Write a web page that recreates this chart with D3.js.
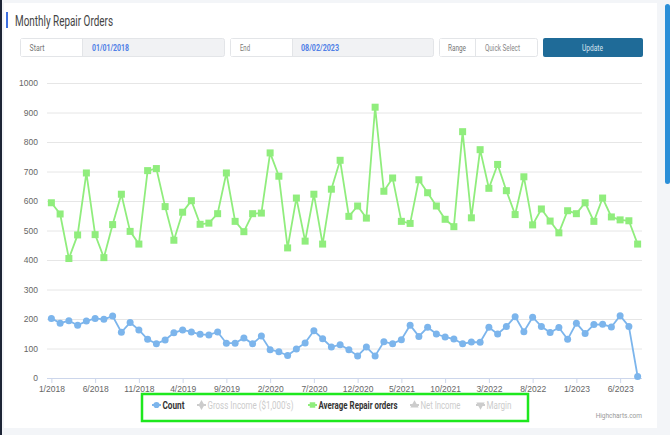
<!DOCTYPE html>
<html>
<head>
<meta charset="utf-8">
<script src="https://cdn.jsdelivr.net/npm/d3@7"></script>
<style>
  body { margin: 0; background: #f3f5f8; }
  svg { display: block; font-family: "Roboto", sans-serif; }
</style>
</head>
<body>
<svg id="chart" width="670" height="435"></svg>
<script>
// monthly values, 1/2018 .. 8/2023
const counts = [202, 186, 194, 179, 193, 202, 199, 210, 155, 188, 163, 131,
  116, 129, 153, 163, 156, 148, 146, 156, 118, 118, 136, 116,
  142, 96, 89, 76, 98, 119, 160, 133, 105, 113, 96, 75,
  105, 75, 123, 116, 130, 179, 141, 172, 149, 139, 132, 116,
  122, 121, 172, 149, 175, 208, 157, 206, 175, 154, 171, 131,
  186, 151, 181, 182, 173, 211, 175, 5]
const avgRepair = [594, 556, 405, 485, 695, 486, 408, 520, 623, 497, 454, 703,
  710, 581, 467, 562, 601, 521, 525, 557, 695, 531, 496, 557,
  559, 763, 684, 441, 610, 464, 623, 454, 640, 738, 548, 583,
  542, 918, 633, 678, 531, 524, 672, 628, 583, 538, 513, 835,
  543, 774, 643, 724, 635, 554, 682, 519, 573, 532, 492, 567,
  557, 594, 531, 610, 546, 536, 533, 454]
const tickIdx = [0, 5, 10, 15, 20, 25, 30, 35, 40, 45, 50, 55, 60, 65]
const tickLabels = ["1/2018", "6/2018", "11/2018", "4/2019", "9/2019", "2/2020", "7/2020",
  "12/2020", "5/2021", "10/2021", "3/2022", "8/2022", "1/2023", "6/2023"]
const yTicks = [0, 100, 200, 300, 400, 500, 600, 700, 800, 900, 1000]
const legendItems = [
  { name: "Count", color: "#7cb5ec", symbol: d3.symbolCircle, on: true },
  { name: "Gross Income ($1,000's)", color: "#cccccc", symbol: d3.symbolDiamond, on: false },
  { name: "Average Repair orders", color: "#90ed7d", symbol: d3.symbolSquare, on: true },
  { name: "Net Income", color: "#cccccc", symbol: d3.symbolTriangle, on: false },
  { name: "Margin", color: "#cccccc", symbol: d3.symbolTriangle, on: false }
]

let svg = d3.select("#chart")

// the source font is a condensed one, so squeeze text to the widths seen
let squeeze = (sel, w) => sel.attr("textLength", w).attr("lengthAdjust", "spacingAndGlyphs")

// page chrome
svg.append("rect").attr("x", 0).attr("y", 0).attr("width", 2).attr("height", 435).attr("fill", "#1d2536")
svg.append("rect").attr("x", 4).attr("y", 3).attr("width", 653).attr("height", 425).attr("fill", "#fff")
svg.append("rect").attr("x", 665).attr("y", 4).attr("width", 5).attr("height", 180).attr("rx", 2.5).attr("fill", "#2b8fd8")

svg.append("rect").attr("x", 6).attr("y", 12).attr("width", 2).attr("height", 16).attr("fill", "#3d6fe0")
svg.append("text").attr("x", 15).attr("y", 26).attr("font-size", 14).attr("fill", "#444")
  .text("Monthly Repair Orders").call(squeeze, 98)

// date inputs row
let inputs = [
  { x: 20, split: 82, end: 224, label: "Start", value: "01/01/2018", lx: 29.5, lw: 15, vx: 92, vw: 37 },
  { x: 230, split: 292, end: 433, label: "End", value: "08/02/2023", lx: 240, lw: 10, vx: 301, vw: 38 },
  { x: 439, split: 475, end: 537, label: "Range", value: "Quick Select", lx: 448, lw: 18, vx: 485, vw: 35 }
]
inputs.forEach(d => {
  let g = svg.append("g")
  g.append("rect").attr("x", d.x + 0.5).attr("y", 38.5).attr("width", d.end - d.x).attr("height", 18)
    .attr("fill", d.label === "Range" ? "#fff" : "#f1f2f4").attr("stroke", "#e3e5e8").attr("rx", 2)
  g.append("rect").attr("x", d.x + 1).attr("y", 39).attr("width", d.split - d.x - 1).attr("height", 17).attr("fill", "#fff")
  g.append("line").attr("x1", d.split + 0.5).attr("x2", d.split + 0.5).attr("y1", 39).attr("y2", 56).attr("stroke", "#e3e5e8")
  g.append("text").attr("x", d.lx).attr("y", 50.5).attr("font-size", 8.5).attr("fill", "#777")
    .text(d.label).call(squeeze, d.lw)
  g.append("text").attr("x", d.vx).attr("y", 50.5).attr("font-size", 8.5)
    .attr("font-weight", d.label === "Range" ? "normal" : "bold")
    .attr("fill", d.label === "Range" ? "#888" : "#4f7fe6").text(d.value).call(squeeze, d.vw)
})
svg.append("rect").attr("x", 543).attr("y", 38).attr("width", 100).attr("height", 19).attr("rx", 2).attr("fill", "#1f6b98")
svg.append("text").attr("x", 582).attr("y", 50.5).attr("font-size", 8.5).attr("fill", "#d6e4ef")
  .text("Update").call(squeeze, 21)

// chart
let x = d3.scaleLinear().domain([-0.5, 67.5]).range([47, 642])
let y = d3.scaleLinear().domain([0, 1000]).range([378, 83])

let grid = svg.append("g").attr("transform", "translate(47,0)")
  .call(d3.axisLeft(y).tickValues(yTicks).tickSize(-595).tickFormat(""))
grid.select(".domain").remove()
grid.selectAll("line").attr("stroke", "#e6e6e6")

let yAxis = svg.append("g").attr("transform", "translate(40,0)")
  .call(d3.axisLeft(y).tickValues(yTicks).tickSize(0).tickPadding(2).tickFormat(d3.format("d")))
yAxis.select(".domain").remove()
yAxis.selectAll("text").attr("fill", "#666").attr("font-size", 8.5)

let xAxis = svg.append("g").attr("transform", "translate(0,378)")
  .call(d3.axisBottom(x).tickValues(tickIdx).tickSize(5).tickPadding(3).tickFormat((d, i) => tickLabels[i]))
xAxis.select(".domain").attr("stroke", "#ccd6eb").attr("d", "M47,0.5H642")
xAxis.selectAll("line").attr("stroke", "#ccd6eb")
xAxis.selectAll("text").attr("fill", "#666").attr("font-size", 8.5)

let line = d3.line().x((d, i) => x(i)).y(d => y(d))

svg.append("path").datum(avgRepair).attr("d", line).attr("fill", "none").attr("stroke", "#90ed7d").attr("stroke-width", 1.8)
svg.selectAll(".sq").data(avgRepair).enter().append("rect").attr("class", "sq")
  .attr("x", (d, i) => x(i) - 3.5).attr("y", d => y(d) - 3.5).attr("width", 7).attr("height", 7).attr("fill", "#90ed7d")

svg.append("path").datum(counts).attr("d", line).attr("fill", "none").attr("stroke", "#7cb5ec").attr("stroke-width", 1.8)
svg.selectAll(".dot").data(counts).enter().append("circle").attr("class", "dot")
  .attr("cx", (d, i) => x(i)).attr("cy", d => y(d)).attr("r", 3.5).attr("fill", "#7cb5ec")

// legend
svg.append("rect").attr("x", 142).attr("y", 394).attr("width", 386).attr("height", 27)
  .attr("fill", "none").attr("stroke", "#1ee81e").attr("stroke-width", 2.5)
let legendX = [152, 197, 308, 410, 476]
let legendW = [22, 86, 79, 40, 25]
legendItems.forEach((d, i) => {
  let g = svg.append("g").attr("transform", `translate(${legendX[i]},405)`)
  g.append("line").attr("x1", 0).attr("x2", 9).attr("stroke", d.color).attr("stroke-width", 2)
  g.append("path").attr("transform", `translate(4.5,0)${i === 4 ? " rotate(180)" : ""}`)
    .attr("d", d3.symbol(d.symbol, 30)).attr("fill", d.color)
  g.append("text").attr("x", 10.5).attr("y", 3.5).attr("font-size", 10)
    .attr("font-weight", d.on ? "bold" : "normal").attr("fill", d.on ? "#333" : "#cccccc")
    .text(d.name).call(squeeze, legendW[i])
})

svg.append("text").attr("x", 642).attr("y", 418).attr("text-anchor", "end").attr("font-size", 6.5)
  .attr("fill", "#999").text("Highcharts.com")
</script>
</body>
</html>
